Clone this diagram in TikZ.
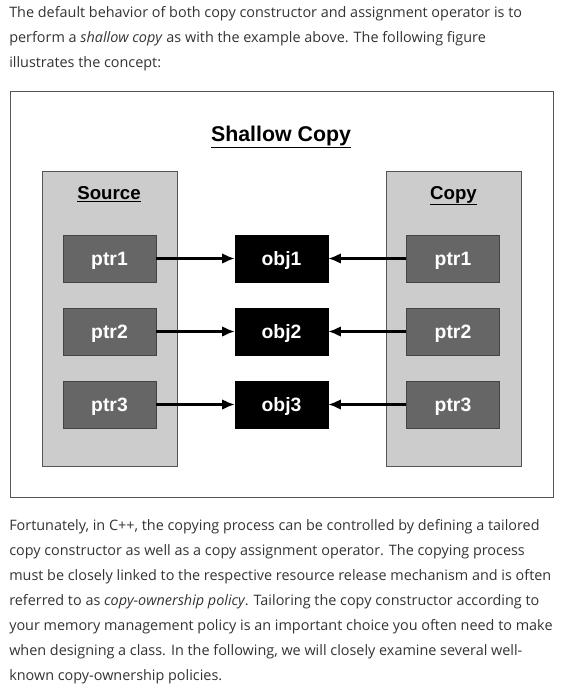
\documentclass[tikz,border=0pt]{standalone}
\usepackage{fontspec}
\usepackage{xcolor}
\usepackage{tikz}
\usetikzlibrary{arrows.meta}
\setmainfont{Open Sans}
\newfontfamily\diagfont{Liberation Sans}
\definecolor{bodytext}{HTML}{333333}
\definecolor{boxgray}{HTML}{CCCCCC}
\definecolor{ptrgray}{HTML}{666666}
\definecolor{edgegray}{HTML}{555555}

\begin{document}
\begin{tikzpicture}[x=0.75pt,y=-0.75pt,
    body/.style={anchor=base west, inner sep=0pt, text=bodytext, font=\fontsize{10.8}{12}\selectfont},
    heading/.style={anchor=base, inner sep=0pt, font=\diagfont\bfseries\fontsize{14}{16}\selectfont},
    side/.style={draw=edgegray, fill=boxgray, minimum width=101.25pt, minimum height=221.25pt},
    ptrbox/.style={draw=edgegray!80!black, fill=ptrgray, text=white, text depth=0pt, minimum width=69.75pt, minimum height=35.25pt, font=\diagfont\bfseries\fontsize{14.5}{16}\selectfont},
    objbox/.style={ptrbox, draw=black, fill=black},
    arrow/.style={line width=1.6pt, -{Latex[length=9.5pt,width=8pt]}}]

    \useasboundingbox (0,0) rectangle (563,699);

    % text above
    \node[body] (top1) at (9,18) {The default behavior of both copy constructor and assignment operator is to};
    \node[body] (top2) at (9,43) {perform a \textit{shallow copy} as with the example above. The following figure};
    \node[body] (top3) at (9,68) {illustrates the concept:};

    \draw[edgegray] (10,91) rectangle (553,497);
    \node[heading, font=\diagfont\bfseries\fontsize{16}{19}\selectfont] (title) at (281,141) {\underline{Shallow Copy}};

    \node[side] (source) at (109.5,318.5) {};
    \node[side] (copy) at (453.5,318.5) {};
    \node[heading] (sourcelabel) at (109,199) {\underline{Source}};
    \node[heading] (copylabel) at (453.5,199) {\underline{Copy}};


    \foreach \i/\y in {1/258.5,2/331.5,3/404.5}  {   % one row per pointer
      \node[ptrbox] (lptr\i) at (109.5,\y) {ptr\i};
      \node[objbox] (obj\i) at (281.5,\y) {obj\i};
      \node[ptrbox] (rptr\i) at (453,\y) {ptr\i};
      \draw[arrow] (lptr\i) -- (obj\i);
      \draw[arrow] (rptr\i) -- (obj\i);
    }

    % text below
    \node[body] (bot1) at (9,530) {Fortunately, in C++, the copying process can be controlled by defining a tailored};
    \node[body] (bot2) at (9,555) {copy constructor as well as a copy assignment operator. The copying process};
    \node[body] (bot3) at (9,580) {must be closely linked to the respective resource release mechanism and is often};
    \node[body] (bot4) at (9,605) {referred to as \textit{copy-ownership policy}. Tailoring the copy constructor according to};
    \node[body] (bot5) at (9,630) {your memory management policy is an important choice you often need to make};
    \node[body] (bot6) at (9,655) {when designing a class. In the following, we will closely examine several well-};
    \node[body] (bot7) at (9,680) {known copy-ownership policies.};

  \end{tikzpicture}
\end{document}
